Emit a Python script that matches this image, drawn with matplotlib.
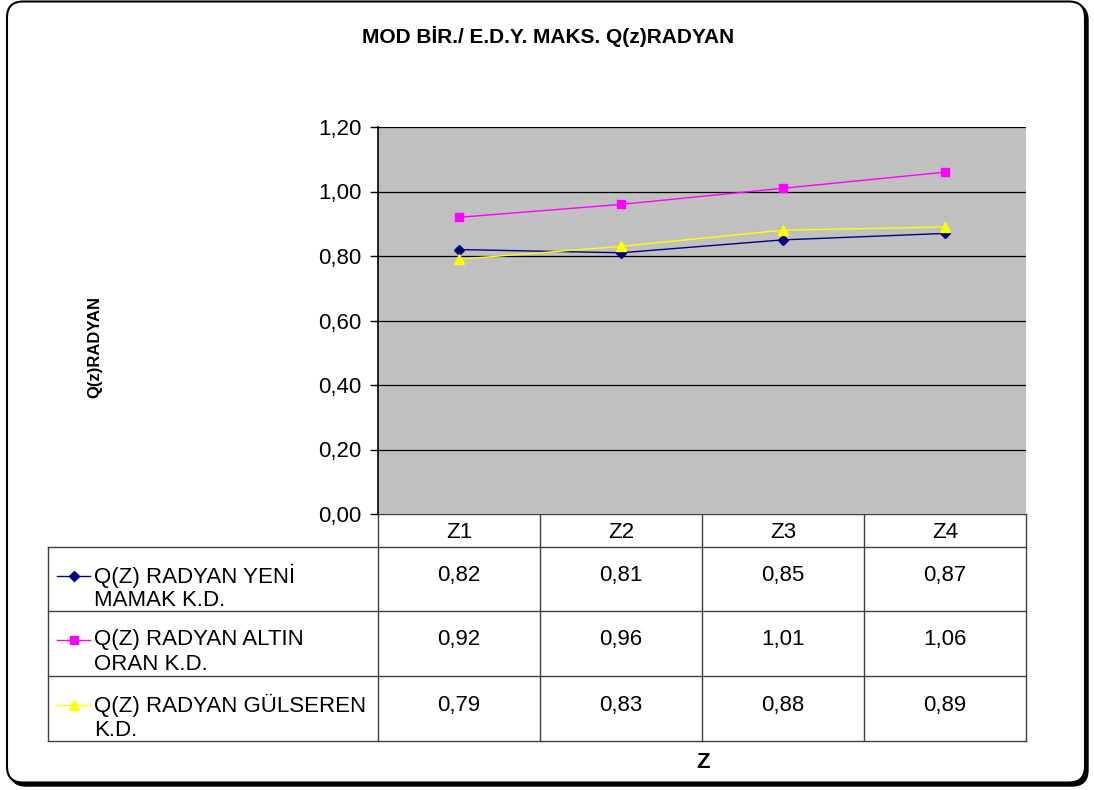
import matplotlib.pyplot as plt
from matplotlib.patches import FancyBboxPatch

plt.rcParams['font.family'] = ['Liberation Sans', 'DejaVu Sans']

kategoriler = ["Z1", "Z2", "Z3", "Z4"]
yeni_mamak = [0.82, 0.81, 0.85, 0.87]
altin_oran = [0.92, 0.96, 1.01, 1.06]
gulseren = [0.79, 0.83, 0.88, 0.89]

seri_adlari = [["Q(Z) RADYAN YENİ", "MAMAK K.D."],
               ["Q(Z) RADYAN ALTIN", "ORAN K.D."],
               ["Q(Z) RADYAN GÜLSEREN", "K.D."]]
seriler = [yeni_mamak, altin_oran, gulseren]
renkler = ["#000080", "#FF00FF", "#FFFF00"]
isaretler = ["D", "s", "^"]
isaret_boyu = [5, 5.5, 6.5]

W, H = 1094, 790
fig = plt.figure(figsize=(W / 100, H / 100), dpi=100)

# arka plan: gölgeli yuvarlak çerçeve
zemin = fig.add_axes([0, 0, 1, 1])
zemin.set_xlim(0, W)
zemin.set_ylim(H, 0)
zemin.axis("off")
golge = FancyBboxPatch((10, 4), 1078, 782, boxstyle="round,pad=0,rounding_size=16",
                       facecolor="black", edgecolor="black", lw=1)
zemin.add_patch(golge)
cerceve = FancyBboxPatch((7, 1.5), 1078, 781, boxstyle="round,pad=0,rounding_size=16",
                         facecolor="white", edgecolor="black", lw=1.5)
zemin.add_patch(cerceve)

zemin.text(548, 37, "MOD BİR./ E.D.Y. MAKS. Q(z)RADYAN", ha="center", va="center",
           fontsize=15, fontweight="bold")
zemin.text(95, 347, "Q(z)RADYAN", ha="center", va="center", rotation=90,
           fontsize=12, fontweight="bold")
zemin.text(703, 763, "Z", ha="center", va="center", fontsize=16, fontweight="bold")

# çizim alanı
sol, sag, ust, alt = 378, 1026, 127, 514
ax = fig.add_axes([sol / W, 1 - alt / H, (sag - sol) / W, (alt - ust) / H])
ax.set_facecolor("#C0C0C0")
x = list(range(len(kategoriler)))
for seri, renk, isaret, boy in zip(seriler, renkler, isaretler, isaret_boyu):
    ax.plot(x, seri, color=renk, marker=isaret, markersize=boy, lw=1,
            markeredgecolor=renk, zorder=3)
ax.set_xlim(-0.5, len(kategoriler) - 0.5)
ax.set_ylim(0, 1.2)
yt = [0, 0.2, 0.4, 0.6, 0.8, 1.0, 1.2]
ax.set_yticks(yt)
ax.set_yticklabels([f"{v:.2f}".replace(".", ",") for v in yt], fontsize=16)
ax.set_xticks([])
for v in yt[1:]:
    ax.axhline(v, color="black", lw=0.9, zorder=1)
ax.tick_params(axis="y", length=6, width=1, direction="out", pad=6)
for k in ["top", "right", "bottom"]:
    ax.spines[k].set_visible(False)
ax.spines["left"].set_linewidth(1.2)

# veri tablosu
sutun_x = [sol + i * (sag - sol) / len(kategoriler) for i in range(len(kategoriler) + 1)]
satir_y = [547, 611, 676, 741]
tablo_sol = 48
renk_cizgi = "#404040"
zemin.plot([sol, sag], [alt, alt], color=renk_cizgi, lw=1)
for yy in satir_y:
    zemin.plot([tablo_sol, sag], [yy, yy], color=renk_cizgi, lw=1)
for xx in sutun_x:
    zemin.plot([xx, xx], [alt, satir_y[-1]], color=renk_cizgi, lw=1)
zemin.plot([tablo_sol, tablo_sol], [satir_y[0], satir_y[-1]], color=renk_cizgi, lw=1)

for i, k in enumerate(kategoriler):
    xc = (sutun_x[i] + sutun_x[i + 1]) / 2
    zemin.text(xc, 532, k, ha="center", va="center", fontsize=16)

for r, (seri, ad, renk, isaret, boy) in enumerate(zip(seriler, seri_adlari, renkler,
                                                       isaretler, isaret_boyu)):
    y0 = satir_y[r] + 29
    zemin.plot([57, 90], [y0, y0], color=renk, lw=1)
    zemin.plot([73.5], [y0], marker=isaret, color=renk, markersize=boy)
    zemin.text(94, y0, ad[0], ha="left", va="center", fontsize=16)
    zemin.text(94, y0 + 25, ad[1], ha="left", va="center", fontsize=16)
    for i, v in enumerate(seri):
        xc = (sutun_x[i] + sutun_x[i + 1]) / 2
        zemin.text(xc, y0, f"{v:.2f}".replace(".", ","), ha="center", va="center",
                   fontsize=16)

fig.savefig("out.png", dpi=100)
